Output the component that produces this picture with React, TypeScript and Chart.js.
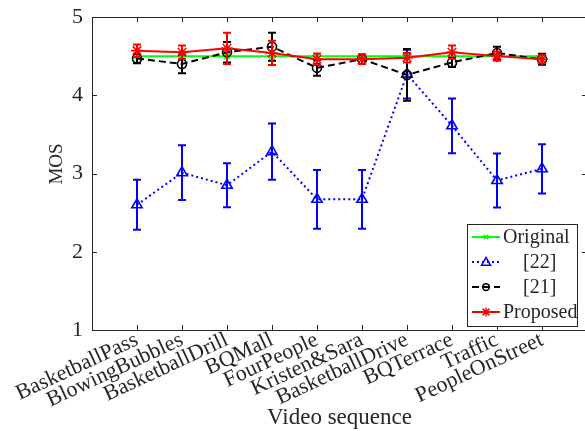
import React, { useEffect, useRef } from "react";
import { Chart, registerables } from "chart.js";

Chart.register(...registerables);

const categories = [
  "BasketballPass",
  "BlowingBubbles",
  "BasketballDrill",
  "BQMall",
  "FourPeople",
  "Kristen&Sara",
  "BasketballDrive",
  "BQTerrace",
  "Traffic",
  "PeopleOnStreet",
];

const originalMos = [4.5, 4.5, 4.5, 4.5, 4.5, 4.5, 4.5, 4.5, 4.5, 4.5];
const originalErr = [0, 0, 0, 0, 0, 0, 0, 0, 0, 0];

const ref22Mos = [2.6, 3.01, 2.85, 3.28, 2.67, 2.67, 4.27, 3.61, 2.91, 3.06];
const ref22Err = [0.32, 0.35, 0.28, 0.36, 0.375, 0.375, 0.31, 0.35, 0.345, 0.315];

const ref21Mos = [4.47, 4.4, 4.55, 4.62, 4.35, 4.46, 4.26, 4.42, 4.54, 4.46];
const ref21Err = [0.06, 0.12, 0.13, 0.18, 0.1, 0.06, 0.33, 0.06, 0.08, 0.07];

const proposedMos = [4.57, 4.55, 4.6, 4.54, 4.46, 4.46, 4.48, 4.55, 4.5, 4.46];
const proposedErr = [0.08, 0.085, 0.2, 0.155, 0.075, 0.06, 0.06, 0.085, 0.06, 0.05];

const seriesLabels = ["Original", "    [22]", "    [21]", "Proposed"];
const yTicks = [1, 2, 3, 4, 5];
const yTitle = "MOS";
const xTitle = "Video sequence";

const FONT = "'Liberation Serif', 'Times New Roman', serif";
const AXIS = "#262626";

type Style = {
  color: string;
  dash: number[];
  point: string;
  radius: number;
};

const styles: Style[] = [
  { color: "#00ff00", dash: [], point: "crossRot", radius: 4 },
  { color: "#0000ff", dash: [2, 3], point: "triangle", radius: 6 },
  { color: "#000000", dash: [7, 4], point: "circle", radius: 4.5 },
  { color: "#ff0000", dash: [], point: "star", radius: 6 },
];

const seriesValues = [originalMos, ref22Mos, ref21Mos, proposedMos];
const seriesErrors = [originalErr, ref22Err, ref21Err, proposedErr];

function drawMarker(ctx: CanvasRenderingContext2D, kind: string, x: number, y: number, r: number) {
  ctx.beginPath();
  if (kind === "circle") {
    ctx.arc(x, y, r, 0, Math.PI * 2);
  } else if (kind === "triangle") {
    ctx.moveTo(x, y - r);
    ctx.lineTo(x + r, y + r * 0.7);
    ctx.lineTo(x - r, y + r * 0.7);
    ctx.closePath();
  } else if (kind === "crossRot") {
    const d = r * 0.75;
    ctx.moveTo(x - d, y - d);
    ctx.lineTo(x + d, y + d);
    ctx.moveTo(x + d, y - d);
    ctx.lineTo(x - d, y + d);
  } else if (kind === "star") {
    const d = r * 0.75;
    ctx.moveTo(x - r, y);
    ctx.lineTo(x + r, y);
    ctx.moveTo(x, y - r);
    ctx.lineTo(x, y + r);
    ctx.moveTo(x - d, y - d);
    ctx.lineTo(x + d, y + d);
    ctx.moveTo(x + d, y - d);
    ctx.lineTo(x - d, y + d);
  }
  ctx.stroke();
}

const errorBarPlugin = {
  id: "errorBars",
  afterDatasetDraw(chart: any, args: any) {
    const ds = chart.data.datasets[args.index];
    const errs: number[] = ds.errors || [];
    const yScale = chart.scales.y;
    const ctx = chart.ctx;
    ctx.save();
    ctx.strokeStyle = ds.borderColor;
    ctx.lineWidth = 2;
    ctx.setLineDash([]);
    args.meta.data.forEach((pt: any, i: number) => {
      const e = errs[i];
      if (!e) return;
      const v = ds.data[i].y;
      const top = yScale.getPixelForValue(v + e);
      const bot = yScale.getPixelForValue(v - e);
      const x = pt.x;
      const cap = 4;
      ctx.beginPath();
      ctx.moveTo(x, top);
      ctx.lineTo(x, bot);
      ctx.moveTo(x - cap, top);
      ctx.lineTo(x + cap, top);
      ctx.moveTo(x - cap, bot);
      ctx.lineTo(x + cap, bot);
      ctx.stroke();
    });
    ctx.restore();
  },
};

const framePlugin = {
  id: "frame",
  beforeDatasetsDraw(chart: any) {
    const { ctx, chartArea: a, scales } = chart;
    ctx.save();
    ctx.strokeStyle = AXIS;
    ctx.lineWidth = 1;
    ctx.setLineDash([]);
    ctx.strokeRect(Math.round(a.left) + 0.5, Math.round(a.top) + 0.5, Math.round(a.right - a.left), Math.round(a.bottom - a.top));
    const tl = 5;
    ctx.beginPath();
    yTicks.forEach((v) => {
      const y = Math.round(scales.y.getPixelForValue(v)) + 0.5;
      ctx.moveTo(a.left, y);
      ctx.lineTo(a.left + tl, y);
      ctx.moveTo(a.right, y);
      ctx.lineTo(a.right - tl, y);
    });
    categories.forEach((_, i) => {
      const x = Math.round(scales.x.getPixelForValue(i + 1)) + 0.5;
      ctx.moveTo(x, a.bottom);
      ctx.lineTo(x, a.bottom - tl);
      ctx.moveTo(x, a.top);
      ctx.lineTo(x, a.top + tl);
    });
    ctx.stroke();
    ctx.restore();
  },
  afterDraw(chart: any) {
    const { ctx, chartArea: a } = chart;
    ctx.save();
    ctx.fillStyle = AXIS;
    // y title
    ctx.save();
    ctx.translate(57, 164);
    ctx.rotate(-Math.PI / 2);
    ctx.font = `19px ${FONT}`;
    ctx.textAlign = "center";
    ctx.textBaseline = "middle";
    ctx.fillText(yTitle, 0, 0);
    ctx.restore();
    // x title
    ctx.font = `23px ${FONT}`;
    ctx.textAlign = "center";
    ctx.textBaseline = "alphabetic";
    ctx.fillText(xTitle, (a.left + a.right) / 2, 424);

    // legend
    const bx = 467, by = 224, bw = 110, bh = 102;
    ctx.fillStyle = "#ffffff";
    ctx.fillRect(bx, by, bw, bh);
    ctx.strokeStyle = AXIS;
    ctx.lineWidth = 1;
    ctx.strokeRect(bx + 0.5, by + 0.5, bw, bh);
    const rows = [237, 262, 287, 312];
    seriesLabels.forEach((lab, i) => {
      const st = styles[i];
      const y = rows[i];
      ctx.strokeStyle = st.color;
      ctx.lineWidth = 2;
      ctx.setLineDash(st.dash);
      ctx.beginPath();
      ctx.moveTo(472, y);
      ctx.lineTo(500, y);
      ctx.stroke();
      ctx.setLineDash([]);
      ctx.lineWidth = 1.5;
      drawMarker(ctx, st.point, 486, y, st.radius * 0.75);
      ctx.fillStyle = AXIS;
      ctx.font = `20px ${FONT}`;
      ctx.textAlign = "left";
      ctx.textBaseline = "middle";
      ctx.fillText(lab, 503, y + 1);
    });
    ctx.restore();
  },
};

export default function App() {
  const ref = useRef<HTMLCanvasElement>(null);
  useEffect(() => {
    if (!ref.current) return;
    const datasets = seriesLabels.map((lab, k) => ({
      label: lab.trim(),
      data: seriesValues[k].map((v, i) => ({ x: i + 1, y: v })),
      errors: seriesErrors[k],
      borderColor: styles[k].color,
      backgroundColor: "rgba(0,0,0,0)",
      borderWidth: 2,
      borderDash: styles[k].dash,
      pointStyle: styles[k].point,
      pointRadius: styles[k].radius,
      pointBorderWidth: 1.6,
      pointBorderColor: styles[k].color,
      pointBackgroundColor: "rgba(0,0,0,0)",
      tension: 0,
      fill: false,
      order: 3 - k,
    }));
    const chart = new Chart(ref.current, {
      type: "line",
      data: { datasets } as any,
      options: {
        animation: false,
        responsive: false,
        devicePixelRatio: 1,
        layout: { autoPadding: false, padding: { top: 17, right: 3, left: 0, bottom: 0 } },
        plugins: { legend: { display: false }, tooltip: { enabled: false } },
        scales: {
          x: {
            type: "linear",
            min: 0,
            max: 11,
            border: { display: false },
            grid: { display: false, drawTicks: false },
            afterBuildTicks: (s: any) => {
              s.ticks = categories.map((_, i) => ({ value: i + 1 }));
            },
            afterFit: (s: any) => {
              s.height = 101;
              s.paddingLeft = 0;
              s.paddingRight = 0;
            },
            ticks: {
              autoSkip: false,
              minRotation: 25,
              maxRotation: 25,
              padding: -3,
              color: AXIS,
              font: { family: FONT, size: 22 },
              callback: (v: any) => categories[Number(v) - 1] ?? "",
            },
          },
          y: {
            type: "linear",
            min: 1,
            max: 5,
            border: { display: false },
            grid: { display: false, drawTicks: false },
            afterBuildTicks: (s: any) => {
              s.ticks = yTicks.map((v) => ({ value: v }));
            },
            afterFit: (s: any) => {
              s.width = 92;
              s.paddingTop = 0;
              s.paddingBottom = 0;
            },
            ticks: {
              padding: 9,
              color: AXIS,
              font: { family: FONT, size: 22 },
            },
          },
        },
      } as any,
      plugins: [framePlugin, errorBarPlugin],
    });
    return () => chart.destroy();
  }, []);
  return (
    <div
      style={{
        position: "fixed",
        left: 0,
        top: 0,
        width: 585,
        height: 431,
        overflow: "hidden",
        background: "#fff",
      }}
    >
      <canvas ref={ref} width={590} height={431} style={{ width: 590, height: 431, display: "block" }} />
    </div>
  );
}
